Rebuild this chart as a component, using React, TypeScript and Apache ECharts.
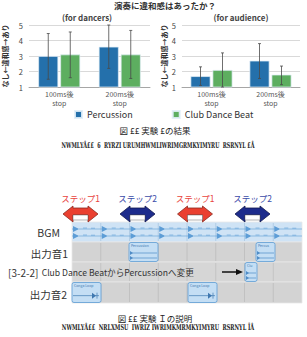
import React, { useEffect, useRef } from "react";
import * as echarts from "echarts";

const categories = ["100ms後\nstop", "200ms後\nstop"];
const seriesNames = ["Percussion", "Club Dance Beat"];
const yTicks = [1, 2, 3, 4, 5];

const dancersPercussion = [3.0, 3.6];
const dancersClub = [3.1, 3.1];
const dancersPercussionErr = [[1.5, 4.45], [2.2, 5.0]];
const dancersClubErr = [[1.6, 4.55], [1.55, 4.65]];

const audiencePercussion = [1.7, 2.7];
const audienceClub = [2.1, 1.8];
const audiencePercussionErr = [[1.1, 2.3], [1.55, 3.8]];
const audienceClubErr = [[1.0, 3.2], [1.15, 2.35]];

const mainTitle = "演奏に違和感はあったか？";
const panelTitles = ["(for dancers)", "(for audience)"];
const yName = "なし←違和感→あり";

const stepLabels = ["ステップ1", "ステップ2", "ステップ1", "ステップ2"];
const trackLabels = ["BGM", "出力音1", "出力音2"];
const changeLabel = "Club Dance BeatからPercussionへ変更";

const FONT = "'Noto Sans CJK JP', 'Noto Sans', sans-serif";
const BLUE = "#2470ab";
const GREEN = "#5dae60";

function measure(text: string, font: string) {
  const c = document.createElement("canvas").getContext("2d");
  if (!c) return text.length * 5;
  c.font = font;
  return c.measureText(text).width;
}

function errSeries(data: number[][], grid: number, offset: number) {
  return {
    type: "custom",
    xAxisIndex: grid,
    yAxisIndex: grid,
    silent: true,
    z: 5,
    data: data.map((d, i) => [i, d[0], d[1]]),
    renderItem: (params: any, api: any) => {
      const lo = api.coord([api.value(0), api.value(1)]);
      const hi = api.coord([api.value(0), api.value(2)]);
      const cx = lo[0] + offset;
      const st = { stroke: "#4a4a4a", lineWidth: 0.8 };
      return {
        type: "group",
        children: [
          { type: "line", shape: { x1: cx, y1: lo[1], x2: cx, y2: hi[1] }, style: st },
          { type: "line", shape: { x1: cx - 1.5, y1: lo[1], x2: cx + 1.5, y2: lo[1] }, style: st },
          { type: "line", shape: { x1: cx - 1.5, y1: hi[1], x2: cx + 1.5, y2: hi[1] }, style: st },
        ],
      };
    },
  };
}

function barSeries(name: string, data: number[], grid: number, color: string) {
  return {
    type: "bar",
    name,
    xAxisIndex: grid,
    yAxisIndex: grid,
    data,
    barWidth: 20,
    barGap: "10%",
    itemStyle: { color, borderColor: "rgba(225,238,248,0.9)", borderWidth: 0.8 },
  };
}

function doubleArrow(cx: number, cy: number, w: number, fill: string, stroke: string) {
  const hw = w / 2, head = 10, hh = 8;
  const l = cx - hw, r = cx + hw;
  return [
    {
      type: "polygon",
      shape: {
        points: [
          [l, cy], [l + head, cy - hh], [l + head, cy - 6], [r - head, cy - 6], [r - head, cy - hh],
          [r, cy], [r - head, cy + hh], [r - head, cy + 1], [l + head, cy + 1], [l + head, cy + hh],
        ],
      },
      style: { fill, stroke, lineWidth: 0.8 },
    },
    {
      type: "rect",
      shape: { x: l + head, y: cy + 1, width: w - 2 * head, height: 5 },
      style: { fill: "#ffffff", stroke: "#666", lineWidth: 0.5 },
    },
  ];
}

function clip(x0: number, x1: number, y0: number, y1: number, label: string, kind: string) {
  const els: any[] = [
    {
      type: "rect",
      shape: { x: x0, y: y0 + 0.5, width: x1 - x0, height: y1 - y0 - 1, r: 2 },
      style: { fill: "#c4def4", stroke: "#5d9dd6", lineWidth: 0.8 },
    },
    {
      type: "text",
      x: x0 + 2,
      y: y0 + 2,
      style: { text: label, font: `3.5px ${FONT}`, fill: "#3f78b0", verticalAlign: "top" },
    },
  ];
  if (kind === "conga") {
    const y = y0 + (y1 - y0) * 0.65;
    els.push({ type: "line", shape: { x1: x0 + 1, y1: y, x2: x1 - 2, y2: y }, style: { stroke: "#3f78b0", lineWidth: 0.7 } });
    els.push({ type: "polygon", shape: { points: [[x1 - 9, y - 3], [x1 - 5, y], [x1 - 9, y + 3]] }, style: { fill: "#3f78b0" } });
    els.push({ type: "line", shape: { x1: x1 - 4, y1: y - 3, x2: x1 - 4, y2: y + 3 }, style: { stroke: "#3f78b0", lineWidth: 0.7 } });
  } else {
    const ya = y0 + (y1 - y0) * 0.55, yb = y0 + (y1 - y0) * 0.8;
    [ya, yb].forEach((y) => {
      els.push({ type: "line", shape: { x1: x0 + 1, y1: y, x2: x1 - 1, y2: y }, style: { stroke: "#4f8cc6", lineWidth: 0.7 } });
      els.push({ type: "polygon", shape: { points: [[x0 + 1, y - 2], [x0 + 4, y], [x0 + 1, y + 2]] }, style: { fill: "#4f8cc6" } });
    });
  }
  return els;
}

function buildDiagram() {
  const g: any[] = [];
  const X0 = 72, X1 = 302, beats = 8, bw = (X1 - X0) / beats;
  const rows = [
    { y0: 222, y1: 242, fill: "#cfe3f5", line: "#a9c8e2" },
    { y0: 242, y1: 262, fill: "#d3d3d3", line: "#bdbdbd" },
    { y0: 262, y1: 282, fill: "#d6d6d6", line: "#bfbfbf" },
    { y0: 282, y1: 303, fill: "#d3d3d3", line: "#bdbdbd" },
  ];
  rows.forEach((r) => {
    g.push({ type: "rect", shape: { x: X0, y: r.y0, width: X1 - X0, height: r.y1 - r.y0 }, style: { fill: r.fill, stroke: "#e9e9e9", lineWidth: 0.8 } });
    for (let i = 1; i < beats; i++) {
      const x = X0 + i * bw;
      g.push({ type: "line", shape: { x1: x, y1: r.y0 + 1, x2: x, y2: r.y1 - 1 }, style: { stroke: r.line, lineWidth: 0.8 } });
    }
  });
  // BGM waveform
  [229, 236].forEach((y) => {
    g.push({ type: "line", shape: { x1: X0, y1: y, x2: X1, y2: y }, style: { stroke: "#6aa6da", lineWidth: 0.7 } });
    for (let i = 0; i < beats; i++) {
      const x = X0 + i * bw + 1;
      g.push({ type: "polygon", shape: { points: [[x, y - 3], [x + 5, y - 0.5], [x + 5, y + 0.5], [x, y + 3]] }, style: { fill: "#5d9dd6" } });
      g.push({ type: "line", shape: { x1: x + 10, y1: y - 1, x2: x + 14, y2: y - 1 }, style: { stroke: "#5d9dd6", lineWidth: 0.6 } });
      g.push({ type: "line", shape: { x1: x + 18, y1: y - 0.8, x2: x + 22, y2: y - 0.8 }, style: { stroke: "#5d9dd6", lineWidth: 0.6 } });
    }
  });
  // clips
  g.push(...clip(129, 158, 242, 262, "Percussion", "perc"));
  g.push(...clip(256, 275, 242, 262, "Percus", "perc"));
  g.push(...clip(245, 257, 262, 282, "Clu", "perc"));
  g.push(...clip(72, 101, 282, 303, "Conga Loop", "conga"));
  g.push(...clip(188, 217, 282, 303, "Conga Loop", "conga"));

  // arrows and step labels
  const arrows = [
    { cx: 80.5, color: "#ea4030", stroke: "#8a2a20", label: "#e8453e" },
    { cx: 137.5, color: "#1d2c8c", stroke: "#10184f", label: "#3b4ca8" },
    { cx: 195, color: "#ea4030", stroke: "#8a2a20", label: "#e8453e" },
    { cx: 252.5, color: "#1d2c8c", stroke: "#10184f", label: "#3b4ca8" },
  ];
  arrows.forEach((a, i) => {
    g.push(...doubleArrow(a.cx, 214, 35, a.color, a.stroke));
    g.push({ type: "text", x: a.cx, y: 198, style: { text: stepLabels[i], font: `8.5px ${FONT}`, fill: a.label, align: "center", verticalAlign: "middle" } });
  });

  // track labels
  g.push({ type: "text", x: 60, y: 232, style: { text: trackLabels[0], font: `10.5px ${FONT}`, fill: "#333", align: "right", verticalAlign: "middle" } });
  g.push({ type: "text", x: 68, y: 253, style: { text: trackLabels[1], font: `10.5px ${FONT}`, fill: "#333", align: "right", verticalAlign: "middle" } });
  g.push({ type: "text", x: 67, y: 294, style: { text: trackLabels[2], font: `10.5px ${FONT}`, fill: "#333", align: "right", verticalAlign: "middle" } });

  // change row
  g.push({
    type: "text",
    x: 8,
    y: 272,
    style: {
      text: "{a|[3-2-2]} {b|" + changeLabel + "}",
      rich: {
        a: { font: `10px ${FONT}`, fill: "#333" },
        b: { font: `8.6px ${FONT}`, fill: "#333" },
      },
      verticalAlign: "middle",
    },
  });
  g.push({ type: "line", shape: { x1: 222, y1: 272, x2: 238, y2: 272 }, style: { stroke: "#111", lineWidth: 1.5 } });
  g.push({ type: "polygon", shape: { points: [[236, 269], [243, 272], [236, 275]] }, style: { fill: "#111" } });
  return g;
}

function captionLines() {
  const g: any[] = [];
  const capFont = `8.5px ${FONT}`;
  g.push({ type: "text", x: 155, y: 130, style: { text: "図 ££ 実験 £の結果", font: capFont, fill: "#222", align: "center", verticalAlign: "middle" } });
  g.push({ type: "text", x: 155, y: 318, style: { text: "図 ££ 実験 Ｉの説明", font: capFont, fill: "#222", align: "center", verticalAlign: "middle" } });
  const garbFont = `bold 8px 'DejaVu Serif', serif`;
  const g1 = "NWMLYÅ££  6  RYRZI URUMHWMLIWRIMGRMKYIMYRU  RSRNYL £Å";
  const g2 = "NWMLYÅ££  NRLXMSU  IWRIZ IWRIMKMRMKYIMYRU  RSRNYL ĪÅ";
  const s1 = 193 / measure(g1, garbFont);
  const s2 = 193 / measure(g2, garbFont);
  g.push({ type: "text", x: 158, y: 146, scaleX: s1, originX: 0, style: { text: g1, font: garbFont, fill: "#222", align: "center", verticalAlign: "middle" } });
  g.push({ type: "text", x: 158, y: 328, scaleX: s2, originX: 0, style: { text: g2, font: garbFont, fill: "#222", align: "center", verticalAlign: "middle" } });
  return g;
}

export default function App() {
  const ref = useRef<HTMLDivElement>(null);
  useEffect(() => {
    if (!ref.current) return;
    const chart = echarts.init(ref.current, null, { renderer: "svg" });
    const yAxisBase = (gridIndex: number, nameGap: number) => ({
      type: "value",
      gridIndex,
      min: yTicks[0],
      max: yTicks[yTicks.length - 1],
      interval: 1,
      name: yName,
      nameLocation: "middle",
      nameRotate: 90,
      nameGap,
      nameTextStyle: { fontFamily: FONT, fontSize: 7, fontWeight: "bold", color: "#333" },
      axisLine: { show: false },
      axisTick: { show: false },
      axisLabel: { fontFamily: FONT, fontSize: 7.5, color: "#444", margin: 6 },
      splitLine: { lineStyle: { color: "#cfcfcf", width: 0.8 } },
    });
    const xAxisBase = (gridIndex: number) => ({
      type: "category",
      gridIndex,
      data: categories,
      axisLine: { lineStyle: { color: "#999", width: 0.8 } },
      axisTick: { show: false },
      axisLabel: { fontFamily: FONT, fontSize: 7, color: "#555", lineHeight: 9.5, margin: 2 },
    });
    chart.setOption({
      animation: false,
      backgroundColor: "#ffffff",
      title: [
        { text: mainTitle, left: 165, top: 1, padding: 0, textAlign: "center", textStyle: { fontFamily: FONT, fontSize: 8.5, fontWeight: "bold", color: "#333" } },
        { text: panelTitles[0], left: 87, top: 13, padding: 0, textAlign: "center", textStyle: { fontFamily: FONT, fontSize: 8, fontWeight: "bold", color: "#444" } },
        { text: panelTitles[1], left: 241, top: 13, padding: 0, textAlign: "center", textStyle: { fontFamily: FONT, fontSize: 8, fontWeight: "bold", color: "#444" } },
      ],
      legend: {
        data: seriesNames,
        left: 74,
        top: 110,
        itemWidth: 7,
        itemHeight: 7,
        itemGap: 39,
        icon: "rect",
        padding: 0,
        textStyle: { fontFamily: FONT, fontSize: 9, color: "#333" },
      },
      grid: [
        { left: 28, top: 25, width: 122, height: 62 },
        { left: 182, top: 25, width: 118, height: 62 },
      ],
      xAxis: [xAxisBase(0), xAxisBase(1)],
      yAxis: [yAxisBase(0, 21), yAxisBase(1, 15)],
      series: [
        barSeries(seriesNames[0], dancersPercussion, 0, BLUE),
        barSeries(seriesNames[1], dancersClub, 0, GREEN),
        barSeries(seriesNames[0], audiencePercussion, 1, BLUE),
        barSeries(seriesNames[1], audienceClub, 1, GREEN),
        errSeries(dancersPercussionErr, 0, -11),
        errSeries(dancersClubErr, 0, 11),
        errSeries(audiencePercussionErr, 1, -11),
        errSeries(audienceClubErr, 1, 11),
      ],
      graphic: [...captionLines(), ...buildDiagram()],
    });
    return () => chart.dispose();
  }, []);
  return <div ref={ref} style={{ position: "absolute", left: 0, top: 0, width: 307, height: 337 }} />;
}
